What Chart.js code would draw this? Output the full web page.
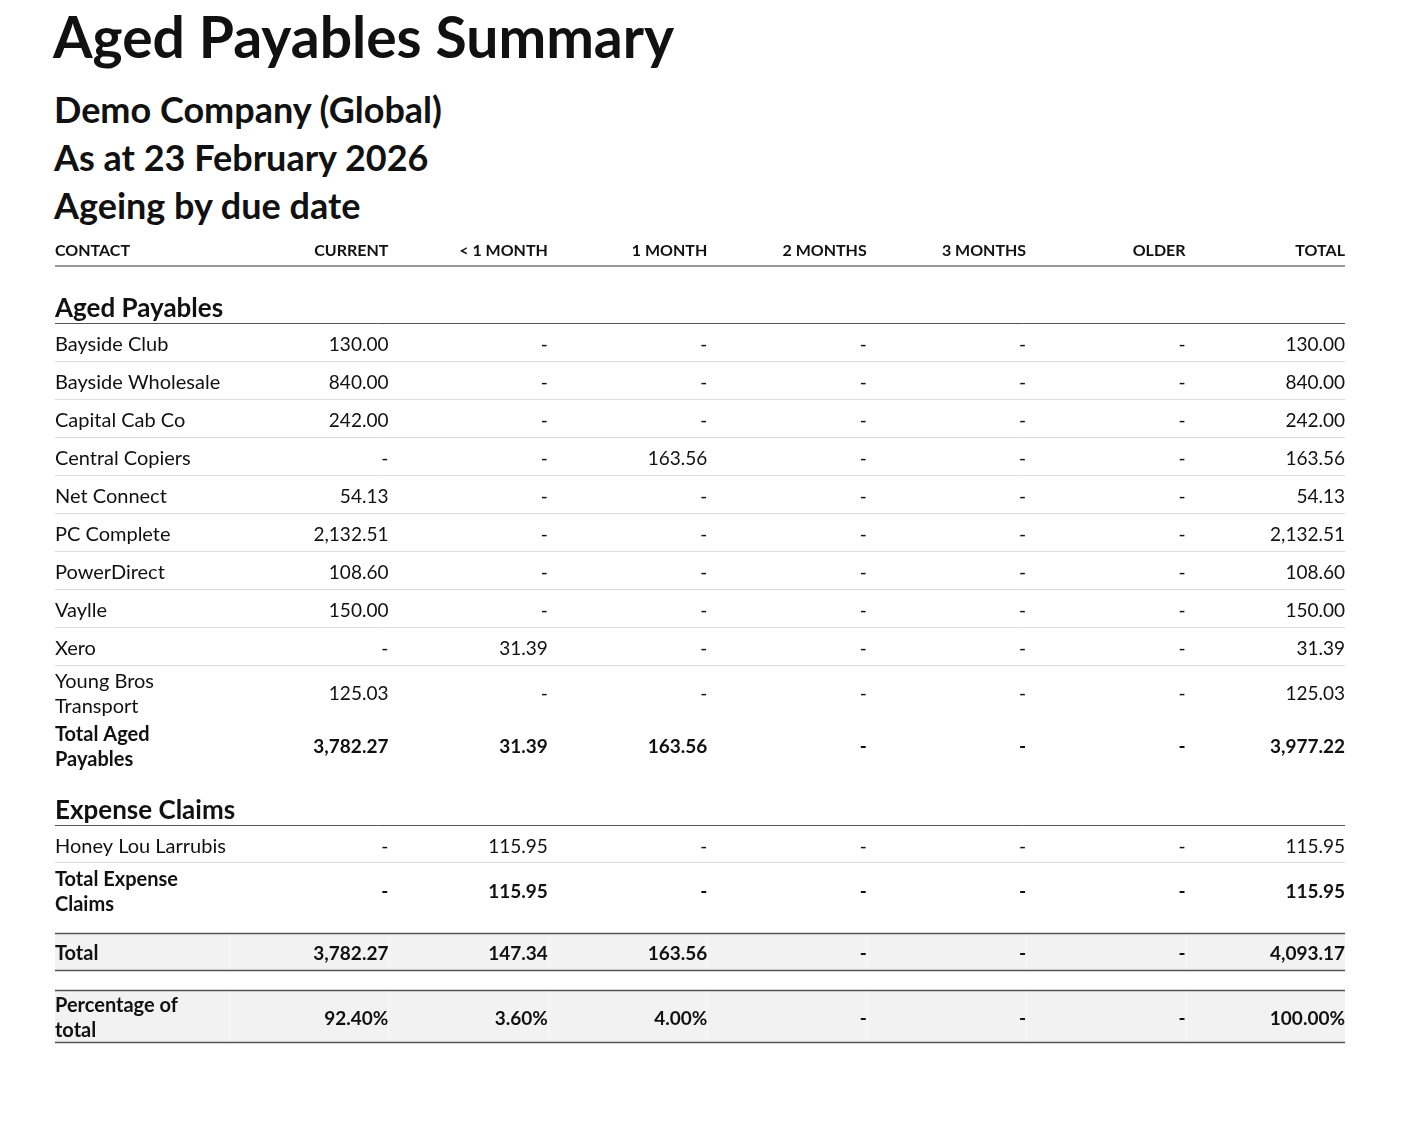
<!DOCTYPE html>
<html>
<head>
<meta charset="utf-8">
<script src="https://cdn.jsdelivr.net/npm/chart.js@4.4.1/dist/chart.umd.min.js"></script>
<style>
  html, body { margin: 0; padding: 0; background: #fff; }
  body { width: 1402px; height: 1140px; position: relative; font-family: Lato, "Noto Sans", sans-serif; color: #111; }
  .t1 { position: absolute; left: 53px; top: 1px; font-size: 57px; font-weight: 700; line-height: 70px; white-space: nowrap; }
  .sub { position: absolute; left: 54px; top: 85px; font-size: 36px; font-weight: 700; line-height: 48px; white-space: nowrap; }
  #wrap { position: absolute; left: 0; top: 228px; width: 1402px; height: 840px; }
</style>
</head>
<body>
<div class="t1" id="title">Aged Payables Summary</div>
<div class="sub" id="subs"></div>
<div id="wrap"><canvas id="c" width="1402" height="840"></canvas></div>
<script>
// ---------- DATA ----------
const reportTitle = 'Aged Payables Summary';
const subtitleLines = ['Demo Company (Global)', 'As at 23 February 2026', 'Ageing by due date'];
const contactHeader = 'CONTACT';
const columnLabels = ['CURRENT', '< 1 MONTH', '1 MONTH', '2 MONTHS', '3 MONTHS', 'OLDER', 'TOTAL'];

const payablesSection = 'Aged Payables';
const payableContacts = ['Bayside Club', 'Bayside Wholesale', 'Capital Cab Co', 'Central Copiers', 'Net Connect', 'PC Complete', 'PowerDirect', 'Vaylle', 'Xero', 'Young Bros Transport'];
const payableCurrent  = [130.00, 840.00, 242.00, null, 54.13, 2132.51, 108.60, 150.00, null, 125.03];
const payableLt1Month = [null, null, null, null, null, null, null, null, 31.39, null];
const payable1Month   = [null, null, null, 163.56, null, null, null, null, null, null];
const payable2Months  = [null, null, null, null, null, null, null, null, null, null];
const payable3Months  = [null, null, null, null, null, null, null, null, null, null];
const payableOlder    = [null, null, null, null, null, null, null, null, null, null];
const payableTotal    = [130.00, 840.00, 242.00, 163.56, 54.13, 2132.51, 108.60, 150.00, 31.39, 125.03];
const totalPayablesLabel = 'Total Aged Payables';
const totalPayables   = [3782.27, 31.39, 163.56, null, null, null, 3977.22];

const expenseSection = 'Expense Claims';
const expenseContacts = ['Honey Lou Larrubis'];
const expenseCurrent  = [null];
const expenseLt1Month = [115.95];
const expense1Month   = [null];
const expense2Months  = [null];
const expense3Months  = [null];
const expenseOlder    = [null];
const expenseTotal    = [115.95];
const totalExpenseLabel = 'Total Expense Claims';
const totalExpense    = [null, 115.95, null, null, null, null, 115.95];

const grandTotalLabel = 'Total';
const grandTotal      = [3782.27, 147.34, 163.56, null, null, null, 4093.17];
const percentLabel    = 'Percentage of total';
const percentOfTotal  = [92.40, 3.60, 4.00, null, null, null, 100.00];

// ---------- LAYOUT / STYLE ----------
const FONT = 'Lato, "Noto Sans", sans-serif';
const H = { header: 39, section: 57, section2: 54, row: 38, wrapRow: 52, subtotal: 54, spacer1: 16, total: 38, spacer2: 19, pct: 53 };
const contactColX = -1.0915;   // contact column left edge in column units
const wrapWidth = 150;
const textShift = 2;           // vertical optical offset for canvas text

document.getElementById('title').textContent = reportTitle;
document.getElementById('subs').innerHTML = subtitleLines.map(s => '<div>' + s + '</div>').join('');

function fmt(v) { return v === null ? '-' : v.toLocaleString('en-US', { minimumFractionDigits: 2, maximumFractionDigits: 2 }); }
function fmtPct(v) { return v === null ? '-' : v.toFixed(2) + '%'; }

// build row list
const rows = [];
rows.push({ kind: 'header', h: H.header, label: contactHeader, cells: columnLabels.map(s => ({ text: s })) });
rows.push({ kind: 'section', h: H.section, label: payablesSection });
const payCols = [payableCurrent, payableLt1Month, payable1Month, payable2Months, payable3Months, payableOlder, payableTotal];
payableContacts.forEach((name, i) => {
  const wrap = name.length > 18;
  rows.push({ kind: 'data', h: wrap ? H.wrapRow : H.row, label: name, wrap, sep: i < payableContacts.length - 1, cells: payCols.map(c => ({ text: fmt(c[i]) })) });
});
rows.push({ kind: 'subtotal', h: H.subtotal, label: totalPayablesLabel, wrap: true, bold: true, cells: totalPayables.map(v => ({ text: fmt(v) })) });
rows.push({ kind: 'section', h: H.section2, label: expenseSection });
const expCols = [expenseCurrent, expenseLt1Month, expense1Month, expense2Months, expense3Months, expenseOlder, expenseTotal];
expenseContacts.forEach((name, i) => {
  rows.push({ kind: 'data', h: H.row - 1, label: name, sep: true, cells: expCols.map(c => ({ text: fmt(c[i]) })) });
});
rows.push({ kind: 'subtotal', h: H.subtotal, label: totalExpenseLabel, wrap: true, bold: true, cells: totalExpense.map(v => ({ text: fmt(v) })) });
rows.push({ kind: 'spacer', h: H.spacer1 });
rows.push({ kind: 'total', h: H.total, label: grandTotalLabel, bold: true, cells: grandTotal.map(v => ({ text: fmt(v) })) });
rows.push({ kind: 'spacer', h: H.spacer2 });
rows.push({ kind: 'total', h: H.pct, label: percentLabel, wrap: true, bold: true, cells: percentOfTotal.map(v => ({ text: fmtPct(v) })) });

let acc = 0;
rows.forEach(r => { r.top = acc; r.bottom = acc + r.h; r.center = acc + r.h / 2; acc += r.h; });
rows.forEach(r => { if (r.kind === 'section') r.center = r.bottom - 17; if (r.kind === 'header') r.center = 20.5; });
const tableHeight = 840;

// datasets: one per row with cells (x = column right edge index, y = row center)
const datasets = rows.filter(r => r.cells).map(r => ({
  label: r.label,
  rowKind: r.kind,
  bold: !!r.bold,
  data: r.cells.map((c, j) => ({ x: j + 1, y: r.center, text: c.text })),
  pointRadius: 0,
  pointHoverRadius: 0,
  showLine: false
}));

function wrapText(ctx, text, maxW) {
  const words = text.split(' ');
  const lines = [];
  let cur = '';
  words.forEach(w => {
    const t = cur ? cur + ' ' + w : w;
    if (ctx.measureText(t).width > maxW && cur) { lines.push(cur); cur = w; } else cur = t;
  });
  if (cur) lines.push(cur);
  return lines;
}

const tablePlugin = {
  id: 'tablePlugin',
  beforeDatasetsDraw(chart) {
    const { ctx, scales: { x, y } } = chart;
    const xl = x.getPixelForValue(contactColX), xr = x.getPixelForValue(7);
    ctx.save();
    rows.forEach(r => {
      const yt = y.getPixelForValue(r.top), yb = y.getPixelForValue(r.bottom);
      if (r.kind === 'total') {
        ctx.fillStyle = '#f2f2f2';
        ctx.fillRect(xl, yt, xr - xl, yb - yt);
        ctx.strokeStyle = '#fafafa'; ctx.lineWidth = 1;
        for (let j = 0; j < 7; j++) {
          const bx = Math.round(x.getPixelForValue(j)) + 0.5;
          ctx.beginPath(); ctx.moveTo(bx, yt); ctx.lineTo(bx, yb); ctx.stroke();
        }
        ctx.strokeStyle = '#555'; ctx.lineWidth = 1.5;
        ctx.beginPath(); ctx.moveTo(xl, yt + 0.5); ctx.lineTo(xr, yt + 0.5); ctx.stroke();
        ctx.beginPath(); ctx.moveTo(xl, yb - 0.5); ctx.lineTo(xr, yb - 0.5); ctx.stroke();
      } else if (r.kind === 'header') {
        ctx.strokeStyle = '#999'; ctx.lineWidth = 2;
        ctx.beginPath(); ctx.moveTo(xl, yb - 1); ctx.lineTo(xr, yb - 1); ctx.stroke();
      } else if (r.kind === 'section') {
        ctx.strokeStyle = '#555'; ctx.lineWidth = 1;
        ctx.beginPath(); ctx.moveTo(xl, Math.round(yb) - 0.5); ctx.lineTo(xr, Math.round(yb) - 0.5); ctx.stroke();
      } else if (r.kind === 'data' && r.sep) {
        ctx.strokeStyle = '#dcdcdc'; ctx.lineWidth = 1;
        ctx.beginPath(); ctx.moveTo(xl, Math.round(yb) - 0.5); ctx.lineTo(xr, Math.round(yb) - 0.5); ctx.stroke();
      }
    });
    ctx.restore();
  },
  afterDatasetsDraw(chart) {
    const { ctx, scales: { x, y } } = chart;
    const xl = x.getPixelForValue(contactColX);
    ctx.save();
    ctx.fillStyle = '#111';
    ctx.textBaseline = 'middle';
    // row labels
    rows.forEach(r => {
      if (!r.label) return;
      const cy = y.getPixelForValue(r.center) + textShift;
      if (r.kind === 'header') ctx.font = '700 16px ' + FONT;
      else if (r.kind === 'section') ctx.font = '700 26px ' + FONT;
      else ctx.font = (r.bold ? '700 ' : '400 ') + '20px ' + FONT;
      ctx.textAlign = 'left';
      const lines = r.wrap ? wrapText(ctx, r.label, wrapWidth) : [r.label];
      const lh = 25;
      lines.forEach((ln, k) => {
        ctx.fillText(ln, xl, cy + (k - (lines.length - 1) / 2) * lh);
      });
    });
    // cells, from dataset elements positioned by scales
    chart.data.datasets.forEach((ds, di) => {
      const meta = chart.getDatasetMeta(di);
      if (ds.rowKind === 'header') ctx.font = '700 16px ' + FONT;
      else ctx.font = (ds.bold ? '700 ' : '400 ') + '19px ' + FONT;
      ctx.textAlign = 'right';
      meta.data.forEach((el, k) => {
        ctx.fillText(ds.data[k].text, el.x, el.y + textShift);
      });
    });
    ctx.restore();
  }
};

new Chart(document.getElementById('c'), {
  type: 'scatter',
  data: { datasets },
  options: {
    responsive: false,
    animation: false,
    events: [],
    layout: { padding: { left: 229, right: 57, top: 0, bottom: 0 } },
    plugins: { legend: { display: false }, tooltip: { enabled: false }, title: { display: false } },
    scales: {
      x: { type: 'linear', min: 0, max: 7, display: false },
      y: { type: 'linear', min: 0, max: tableHeight, reverse: true, display: false }
    }
  },
  plugins: [tablePlugin]
});
</script>
</body>
</html>
